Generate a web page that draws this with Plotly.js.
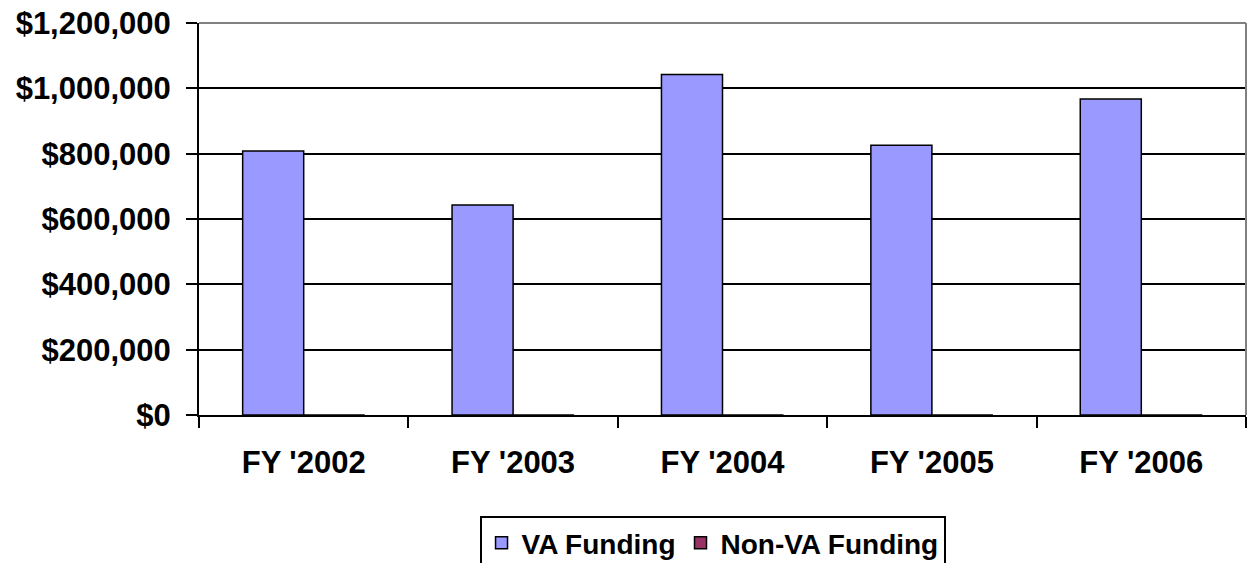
<!DOCTYPE html>
<html>
<head>
<meta charset="utf-8">
<script src="https://cdn.plot.ly/plotly-3.0.1.min.js"></script>
<style>html,body{margin:0;padding:0;background:#fff;}#chart{width:1247px;height:563px;}</style>
</head>
<body>
<div id="chart"></div>
<script>
const categories = ["FY '2002", "FY '2003", "FY '2004", "FY '2005", "FY '2006"];
const vaFunding = [808000, 643000, 1042000, 826000, 967000];
const nonVaFunding = [0, 0, 0, 0, 0];
const yTickVals = [0, 200000, 400000, 600000, 800000, 1000000, 1200000];
const yTickText = ["$0", "$200,000", "$400,000", "$600,000", "$800,000", "$1,000,000", "$1,200,000"];

const fam = "Liberation Sans, Arial, sans-serif";

const traces = [
  {type: "bar", name: "VA Funding", x: categories, y: vaFunding,
   marker: {color: "#9999FF", line: {color: "#000", width: 1.5}}},
  {type: "bar", name: "Non-VA Funding", x: categories, y: nonVaFunding,
   marker: {color: "#993366", line: {color: "#000", width: 1.5}}}
];

const layout = {
  width: 1247, height: 563,
  margin: {l: 199, r: 1, t: 23, b: 148, autoexpand: false},
  paper_bgcolor: "#fff", plot_bgcolor: "#fff",
  barmode: "group", bargap: 0.417, bargroupgap: 0,
  showlegend: true,
  font: {family: fam, color: "#000", weight: "bold"},
  xaxis: {
    type: "category",
    tickson: "boundaries",
    tickangle: 0,
    ticks: "outside", ticklen: 11, tickwidth: 2, tickcolor: "#000",
    showline: true, linecolor: "#000", linewidth: 2,
    showgrid: false, zeroline: false,
    tickfont: {family: fam, size: 31, color: "#000", weight: "bold"},
    ticklabelstandoff: 19
  },
  yaxis: {
    range: [0, 1200000],
    tickvals: yTickVals, ticktext: yTickText,
    ticks: "outside", ticklen: 11, tickwidth: 2, tickcolor: "#000",
    showline: true, linecolor: "#000", linewidth: 2,
    showgrid: true, gridcolor: "#000", gridwidth: 2,
    zeroline: false,
    tickfont: {family: fam, size: 31, color: "#000", weight: "bold"},
    ticklabelstandoff: 9
  },
  shapes: [
    {type: "line", xref: "paper", yref: "paper", x0: 0, x1: 1, y0: 1, y1: 1, line: {color: "#808080", width: 2}},
    {type: "line", xref: "paper", yref: "paper", x0: 1, x1: 1, y0: 0, y1: 1, line: {color: "#808080", width: 2}}
  ],
  legend: {
    orientation: "h",
    xref: "container", yref: "container",
    x: 0.5714, xanchor: "center",
    y: 0.0835, yanchor: "top",
    bgcolor: "#fff", bordercolor: "#000", borderwidth: 2,
    font: {family: fam, size: 28, color: "#000", weight: "bold"},
    itemwidth: 30, tracegroupgap: 0
  }
};

Plotly.newPlot("chart", traces, layout, {staticPlot: true, displayModeBar: false});
</script>
</body>
</html>
